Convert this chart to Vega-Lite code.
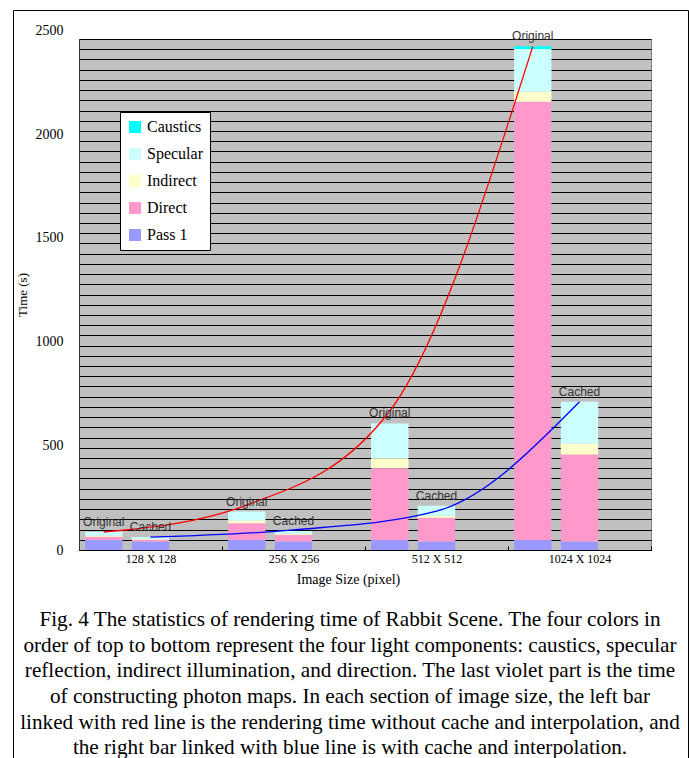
{
  "$schema": "https://vega.github.io/schema/vega-lite/v6.json",
  "width": 572,
  "height": 511,
  "autosize": "none",
  "padding": {"left": 79, "top": 39, "right": 38, "bottom": 208},
  "background": "white",
  "config": {
    "view": {"fill": "#c0c0c0", "stroke": "#808080", "strokeWidth": 1},
    "font": "Liberation Serif"
  },
  "datasets": {
    "bars": [
      {"size": "128 X 128", "variant": "Original", "component": "Pass 1", "time": 49},
      {"size": "128 X 128", "variant": "Original", "component": "Direct", "time": 16},
      {"size": "128 X 128", "variant": "Original", "component": "Indirect", "time": 5},
      {"size": "128 X 128", "variant": "Original", "component": "Specular", "time": 18},
      {"size": "128 X 128", "variant": "Original", "component": "Caustics", "time": 0},
      {"size": "128 X 128", "variant": "Cached", "component": "Pass 1", "time": 41},
      {"size": "128 X 128", "variant": "Cached", "component": "Direct", "time": 9},
      {"size": "128 X 128", "variant": "Cached", "component": "Indirect", "time": 4},
      {"size": "128 X 128", "variant": "Cached", "component": "Specular", "time": 9},
      {"size": "128 X 128", "variant": "Cached", "component": "Caustics", "time": 0},
      {"size": "256 X 256", "variant": "Original", "component": "Pass 1", "time": 49},
      {"size": "256 X 256", "variant": "Original", "component": "Direct", "time": 82},
      {"size": "256 X 256", "variant": "Original", "component": "Indirect", "time": 13},
      {"size": "256 X 256", "variant": "Original", "component": "Specular", "time": 44},
      {"size": "256 X 256", "variant": "Original", "component": "Caustics", "time": 0},
      {"size": "256 X 256", "variant": "Cached", "component": "Pass 1", "time": 41},
      {"size": "256 X 256", "variant": "Cached", "component": "Direct", "time": 33},
      {"size": "256 X 256", "variant": "Cached", "component": "Indirect", "time": 5},
      {"size": "256 X 256", "variant": "Cached", "component": "Specular", "time": 14},
      {"size": "256 X 256", "variant": "Cached", "component": "Caustics", "time": 0},
      {"size": "512 X 512", "variant": "Original", "component": "Pass 1", "time": 49},
      {"size": "512 X 512", "variant": "Original", "component": "Direct", "time": 351},
      {"size": "512 X 512", "variant": "Original", "component": "Indirect", "time": 49},
      {"size": "512 X 512", "variant": "Original", "component": "Specular", "time": 170},
      {"size": "512 X 512", "variant": "Original", "component": "Caustics", "time": 0},
      {"size": "512 X 512", "variant": "Cached", "component": "Pass 1", "time": 41},
      {"size": "512 X 512", "variant": "Cached", "component": "Direct", "time": 117},
      {"size": "512 X 512", "variant": "Cached", "component": "Indirect", "time": 10},
      {"size": "512 X 512", "variant": "Cached", "component": "Specular", "time": 49},
      {"size": "512 X 512", "variant": "Cached", "component": "Caustics", "time": 0},
      {"size": "1024 X 1024", "variant": "Original", "component": "Pass 1", "time": 49},
      {"size": "1024 X 1024", "variant": "Original", "component": "Direct", "time": 2144},
      {"size": "1024 X 1024", "variant": "Original", "component": "Indirect", "time": 49},
      {"size": "1024 X 1024", "variant": "Original", "component": "Specular", "time": 209},
      {"size": "1024 X 1024", "variant": "Original", "component": "Caustics", "time": 13},
      {"size": "1024 X 1024", "variant": "Cached", "component": "Pass 1", "time": 41},
      {"size": "1024 X 1024", "variant": "Cached", "component": "Direct", "time": 426},
      {"size": "1024 X 1024", "variant": "Cached", "component": "Indirect", "time": 54},
      {"size": "1024 X 1024", "variant": "Cached", "component": "Specular", "time": 204},
      {"size": "1024 X 1024", "variant": "Cached", "component": "Caustics", "time": 0}
    ],
    "curves": [
      {"size": "128 X 128", "variant": "Original", "time": 88},
      {"size": "256 X 256", "variant": "Original", "time": 220},
      {"size": "512 X 512", "variant": "Original", "time": 680},
      {"size": "1024 X 1024", "variant": "Original", "time": 2464},
      {"size": "128 X 128", "variant": "Cached", "time": 63},
      {"size": "256 X 256", "variant": "Cached", "time": 98},
      {"size": "512 X 512", "variant": "Cached", "time": 190},
      {"size": "1024 X 1024", "variant": "Cached", "time": 725}
    ]
  },
  "title": {
    "text": [
      "Fig. 4 The statistics of rendering time of Rabbit Scene. The four colors in",
      "order of top to bottom represent the four light components: caustics, specular",
      "reflection, indirect illumination, and direction. The last violet part is the time",
      "of constructing photon maps.  In each section of image size, the left bar",
      "linked with red line is the rendering time without cache and interpolation, and",
      "the right bar linked with blue line is with cache and interpolation."
    ],
    "orient": "top",
    "anchor": "middle",
    "frame": "group",
    "dx": -15,
    "offset": -749,
    "baseline": "top",
    "font": "Liberation Serif",
    "fontSize": 21.2,
    "fontWeight": "normal",
    "color": "#000000",
    "lineHeight": 25.6
  },
  "encoding": {
    "x": {
      "field": "size",
      "type": "nominal",
      "sort": ["128 X 128", "256 X 256", "512 X 512", "1024 X 1024"],
      "scale": {"paddingInner": 0, "paddingOuter": 0},
      "axis": {
        "title": "Image Size (pixel)",
        "labelAngle": 0,
        "labelFont": "Liberation Serif",
        "labelFontSize": 12,
        "labelColor": "#000",
        "labelPadding": 7,
        "ticks": true,
        "tickBand": "extent",
        "tickSize": -4,
        "tickColor": "#000",
        "domainColor": "#000",
        "titleFont": "Liberation Serif",
        "titleFontSize": 14,
        "titleFontWeight": "normal",
        "titleColor": "#000",
        "titleX": 269,
        "titleY": 29,
        "titleBaseline": "middle"
      }
    },
    "xOffset": {
      "field": "variant",
      "type": "nominal",
      "scale": {"domain": ["Original", "Cached", "gap"], "paddingInner": 0.2, "paddingOuter": 0.13}
    },
    "y": {
      "field": "time",
      "type": "quantitative",
      "scale": {"domain": [0, 2500], "nice": false},
      "axis": {
        "title": "Time (s)",
        "values": [0,50,100,150,200,250,300,350,400,450,500,550,600,650,700,750,800,850,900,950,1000,1050,1100,1150,1200,1250,1300,1350,1400,1450,1500,1550,1600,1650,1700,1750,1800,1850,1900,1950,2000,2050,2100,2150,2200,2250,2300,2350,2400,2450,2500],
        "format": "d",
        "labelExpr": "datum.value % 500 === 0 ? datum.label : ''",
        "labelOffset": {
          "condition": [
            {"test": "datum.value === 500", "value": -2.5},
            {"test": "datum.value === 1000", "value": -4.5},
            {"test": "datum.value === 1500", "value": -5.5},
            {"test": "datum.value === 2000", "value": -7},
            {"test": "datum.value === 2500", "value": -9}
          ],
          "value": 0
        },
        "grid": true,
        "gridColor": "#000000",
        "gridWidth": 1,
        "gridOpacity": 1,
        "ticks": false,
        "labelPadding": 16,
        "labelFont": "Liberation Serif",
        "labelFontSize": 14,
        "labelColor": "#000",
        "domainColor": "#333",
        "titleFont": "Liberation Serif",
        "titleFontSize": 13,
        "titleFontWeight": "normal",
        "titleColor": "#000",
        "titleX": -57,
        "titleY": 255.5,
        "titleAngle": 270,
        "titleAlign": "center",
        "titleBaseline": "middle"
      }
    }
  },
  "layer": [
    {
      "data": {"name": "bars"},
      "transform": [
        {"calculate": "indexof(['Pass 1','Direct','Indirect','Specular','Caustics'], datum.component)", "as": "stackOrder"}
      ],
      "mark": {"type": "bar", "strokeWidth": 0},
      "encoding": {
        "color": {
          "field": "component",
          "type": "nominal",
          "scale": {
            "domain": ["Caustics", "Specular", "Indirect", "Direct", "Pass 1"],
            "range": ["#00ffff", "#ccffff", "#ffffcc", "#ff99cc", "#9999ff"]
          },
          "legend": {
            "title": null,
            "orient": "none",
            "legendX": 41,
            "legendY": 73,
            "symbolType": "square",
            "symbolSize": 144,
            "symbolStrokeWidth": 0,
            "symbolOpacity": 1,
            "labelFont": "Liberation Serif",
            "labelFontSize": 16,
            "labelColor": "#000",
            "labelOffset": 4,
            "rowPadding": 11,
            "padding": 7,
            "fillColor": "#ffffff",
            "strokeColor": "#000000"
          }
        },
        "order": {"field": "stackOrder", "type": "quantitative"}
      }
    },
    {
      "data": {"name": "curves"},
      "mark": {"type": "line", "strokeWidth": 1.3, "interpolate": "monotone"},
      "encoding": {
        "stroke": {
          "field": "variant",
          "type": "nominal",
          "scale": {"domain": ["Original", "Cached"], "range": ["#ff0000", "#0000ff"]},
          "legend": {
            "title": null,
            "orient": "none",
            "legendX": -66,
            "legendY": -29,
            "padding": 0,
            "symbolSize": 100,
            "symbolOpacity": 0,
            "labelExpr": "''",
            "labelOpacity": 0,
            "labelFontSize": 1,
            "labelOffset": 663,
            "rowPadding": 740,
            "strokeColor": "#000000"
          }
        }
      }
    },
    {
      "data": {"name": "bars"},
      "transform": [
        {"aggregate": [{"op": "sum", "field": "time", "as": "time"}], "groupby": ["size", "variant"]}
      ],
      "mark": {"type": "text", "font": "Liberation Sans", "fontSize": 12, "color": "#333333", "baseline": "bottom", "dy": -3},
      "encoding": {"text": {"field": "variant", "type": "nominal"}}
    }
  ]
}
